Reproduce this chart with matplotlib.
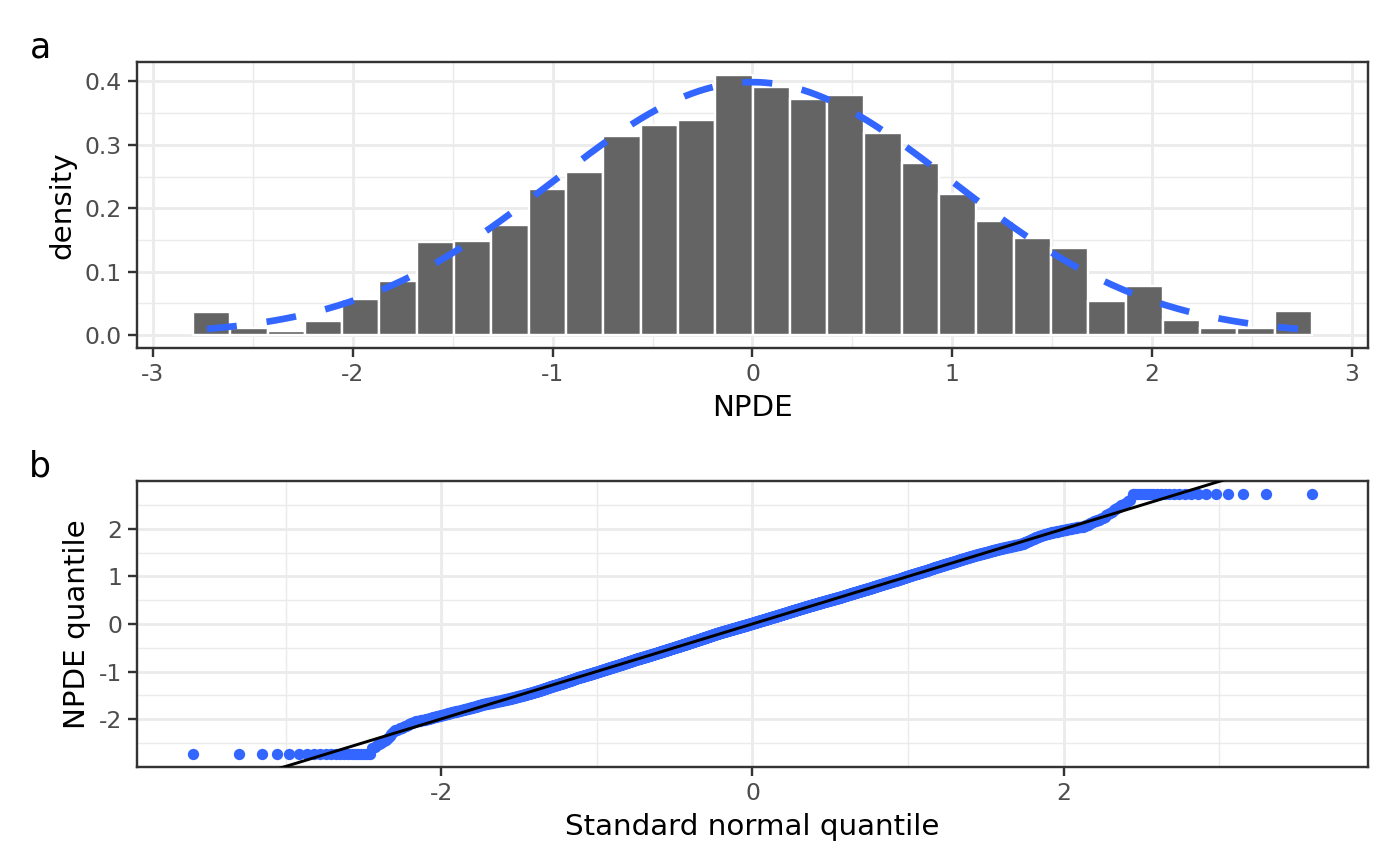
import numpy as np
import matplotlib
matplotlib.use("Agg")
import matplotlib.pyplot as plt
from statistics import NormalDist

# histogram of NPDE (panel a), densities
bin_start = -2.8
bin_width = 0.18667
densities = [0.0366, 0.0114, 0.0060, 0.0214, 0.0569, 0.0858, 0.1464, 0.1485,
             0.1743, 0.2301, 0.2570, 0.3133, 0.3318, 0.3386, 0.4102, 0.3913,
             0.3728, 0.3781, 0.3181, 0.2707, 0.2217, 0.1806, 0.1532, 0.1380,
             0.0537, 0.0774, 0.0230, 0.0114, 0.0114, 0.0380]
n_obs = 3100        # number of points in the qq plot
npde_clip = 2.73    # npde values are bounded at +-2.73

a_xticks = [-3, -2, -1, 0, 1, 2, 3]
a_yticks = [0.0, 0.1, 0.2, 0.3, 0.4]
b_xticks = [-2, 0, 2]
b_yticks = [-2, -1, 0, 1, 2]

blue = "#3366FF"
grid_col = "#EBEBEB"
frame_col = "#333333"
text_col = "#4D4D4D"

nd = NormalDist()

# rebuild the sample from the histogram to get the qq points
dens = np.array(densities)
counts = np.round(dens / dens.sum() * n_obs).astype(int)
edges = bin_start + bin_width * np.arange(len(dens) + 1)
sample = []
for i, c in enumerate(counts):
    if i == 0:
        sample += [-npde_clip] * c
    elif i == len(counts) - 1:
        sample += [npde_clip] * c
    else:
        lo, hi = edges[i], edges[i + 1]
        sample += list(lo + (np.arange(c) + 0.5) / c * (hi - lo))
qy = np.sort(sample)
n = len(qy)
qx = np.array([nd.inv_cdf((i + 0.5) / n) for i in range(n)])

# line through the quartiles
q25, q75 = np.quantile(qy, [0.25, 0.75])
z25, z75 = nd.inv_cdf(0.25), nd.inv_cdf(0.75)
slope = (q75 - q25) / (z75 - z25)
intercept = q25 - slope * z25

plt.rcParams['font.family'] = ['DejaVu Sans']

W, H = 1400, 866
dpi = 192
fig = plt.figure(figsize=(W / dpi, H / dpi), dpi=dpi)


def style(ax, xmajor, ymajor, xminor, yminor):
    ax.set_facecolor("white")
    for s in ax.spines.values():
        s.set_color(frame_col)
        s.set_linewidth(0.9)
    ax.set_xticks(xmajor)
    ax.set_yticks(ymajor)
    ax.set_xticks(xminor, minor=True)
    ax.set_yticks(yminor, minor=True)
    ax.tick_params(which="major", length=3.4, width=0.9, color=frame_col,
                   labelcolor=text_col, labelsize=8.8, pad=2.2)
    ax.tick_params(which="minor", length=0)
    ax.grid(which="major", color=grid_col, linewidth=1.07)
    ax.grid(which="minor", color=grid_col, linewidth=0.53)
    ax.set_axisbelow(True)


def px_rect(l, t, r, b):
    return [l / W, 1 - b / H, (r - l) / W, (b - t) / H]


# panel a
ax1 = fig.add_axes(px_rect(137, 62, 1368, 348))
ax1.bar(edges[:-1], dens, width=bin_width, align="edge", color="#646464",
        edgecolor="white", linewidth=0.9, zorder=2)
cx = np.linspace(-npde_clip, npde_clip, 300)
cy = np.array([nd.pdf(v) for v in cx])
ax1.plot(cx, cy, color=blue, linewidth=2.5, dashes=(4.5, 4.5), zorder=3)
xr = edges[-1] - edges[0]
ax1.set_xlim(edges[0] - 0.05 * xr, edges[-1] + 0.05 * xr)
ymax = dens.max()
ax1.set_ylim(-0.05 * ymax, ymax * 1.05)
style(ax1, a_xticks, a_yticks, [-2.5, -1.5, -0.5, 0.5, 1.5, 2.5],
      [0.05, 0.15, 0.25, 0.35])
ax1.set_yticklabels([f"{v:.1f}" for v in a_yticks])
ax1.set_xticklabels([str(v) for v in a_xticks])
ax1.set_xlabel("NPDE", fontsize=11, labelpad=3)
ax1.set_ylabel("density", fontsize=11, labelpad=3)

# panel b
ax2 = fig.add_axes(px_rect(137, 481, 1368, 767))
ax2.scatter(qx, qy, s=18, color=blue, linewidths=0, zorder=2)
xr2 = qx.max() - qx.min()
yr2 = qy.max() - qy.min()
xl = (qx.min() - 0.05 * xr2, qx.max() + 0.05 * xr2)
ax2.set_xlim(xl)
ax2.set_ylim(qy.min() - 0.05 * yr2, qy.max() + 0.05 * yr2)
lx = np.array([qx.min(), qx.max()])
ax2.plot(lx, intercept + slope * lx, color="black", linewidth=1.1, zorder=3)
style(ax2, b_xticks, b_yticks, [-3, -1, 1, 3], [-2.5, -1.5, -0.5, 0.5, 1.5, 2.5])
ax2.set_xticklabels([str(v) for v in b_xticks])
ax2.set_yticklabels([str(v) for v in b_yticks])
ax2.set_xlabel("Standard normal quantile", fontsize=11, labelpad=3)
ax2.set_ylabel("NPDE quantile", fontsize=11, labelpad=3)

fig.text(40 / W, 1 - 57 / H, "a", fontsize=13, ha="center", va="baseline")
fig.text(40 / W, 1 - 477 / H, "b", fontsize=13, ha="center", va="baseline")

fig.savefig("out.png", dpi=dpi)
